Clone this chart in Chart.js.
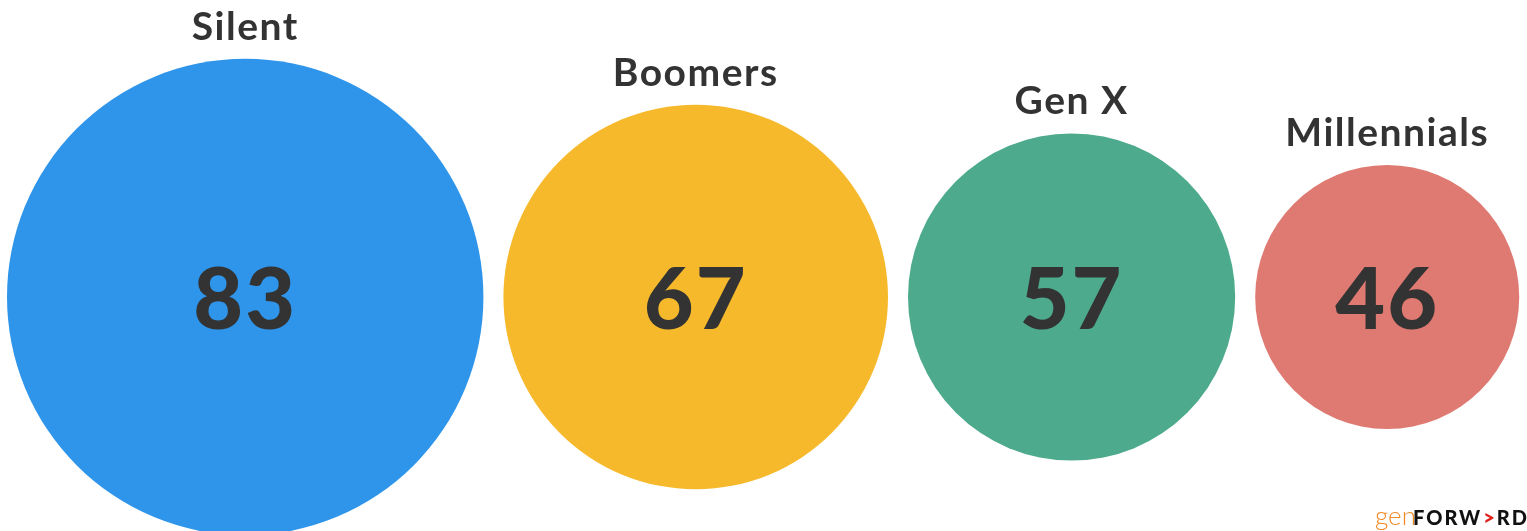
<!DOCTYPE html>
<html>
<head>
<meta charset="utf-8">
<script src="https://cdn.jsdelivr.net/npm/chart.js@4"></script>
<style>
  html, body { margin: 0; padding: 0; background: #ffffff; }
  #wrap { width: 1527px; height: 531px; position: relative; }
</style>
</head>
<body>
<div id="wrap"><canvas id="chart"></canvas></div>
<script>
// generations and their values
const categories = ['Silent', 'Boomers', 'Gen X', 'Millennials'];
const values = [83, 67, 57, 46];
const colors = ['#2F95EA', '#F6B92B', '#4DAA8C', '#DE7A71'];

// layout (pixels)
const PX_PER_POINT = 2.87;   // bubble radius per value point
const LEFT = 7;
const GAP = 20;
const CENTER_Y = 297;
const TEXT = '#333333';

// pack circles side by side from the left
const centers = [];
let cursor = LEFT;
values.forEach(v => {
    const r = v * PX_PER_POINT;
    centers.push(cursor + r);
    cursor += 2 * r + GAP;
});

const points = values.map((v, i) => ({ x: centers[i], y: CENTER_Y, v }));

const labelPlugin = {
    id: 'bubbleLabels',
    afterDatasetsDraw(chart) {
        const { ctx } = chart;
        const meta = chart.getDatasetMeta(0);
        ctx.save();
        meta.data.forEach((el, i) => {
            const r = values[i] * PX_PER_POINT;
            ctx.fillStyle = TEXT;
            ctx.textAlign = 'center';
            ctx.textBaseline = 'alphabetic';
            ctx.letterSpacing = '1.5px';
            ctx.font = 'bold 39px Lato';
            ctx.fillText(categories[i], el.x, el.y - r - 19);
            ctx.letterSpacing = '2px';
            ctx.font = '900 86px Lato';
            ctx.textBaseline = 'middle';
            ctx.fillText(String(values[i]), el.x, el.y + 4);
        });

        // source logo, bottom right
        ctx.textAlign = 'left';
        ctx.textBaseline = 'alphabetic';
        ctx.letterSpacing = '0px';
        let x = 1375;
        const y = 525;
        ctx.font = '300 26px Lato';
        ctx.fillStyle = '#F08A24';
        ctx.fillText('gen', x, y);
        x += 38;
        ctx.letterSpacing = '2px';
        ctx.font = '900 20px Lato';
        ctx.fillStyle = '#111111';
        ctx.fillText('FORW', x, y);
        x += ctx.measureText('FORW').width + 1;
        ctx.fillStyle = '#E0201B';
        ctx.fillText('>', x, y);
        x += ctx.measureText('>').width;
        ctx.fillStyle = '#111111';
        ctx.fillText('RD', x, y);
        ctx.restore();
    }
};

new Chart(document.getElementById('chart'), {
    type: 'bubble',
    data: {
        datasets: [{
            data: points,
            backgroundColor: colors,
            hoverBackgroundColor: colors,
            borderWidth: 0,
            hoverBorderWidth: 0,
            radius: c => c.raw.v * PX_PER_POINT,
            hoverRadius: 0
        }]
    },
    options: {
        responsive: true,
        maintainAspectRatio: false,
        animation: false,
        layout: { padding: 0, autoPadding: false },
        clip: false,
        plugins: {
            legend: { display: false },
            tooltip: { enabled: false }
        },
        scales: {
            x: { type: 'linear', display: false, min: 0, max: 1527 },
            y: { type: 'linear', display: false, min: 0, max: 531, reverse: true }
        }
    },
    plugins: [labelPlugin]
});
</script>
</body>
</html>
